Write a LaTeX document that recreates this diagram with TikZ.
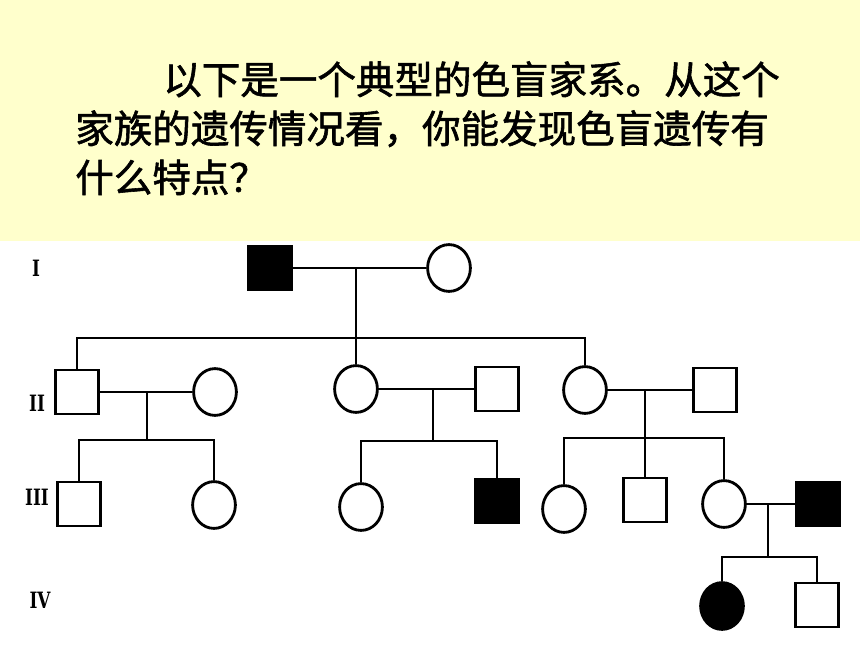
\documentclass[tikz,border=0pt]{standalone}
\usepackage{fontspec}
\newfontfamily\cjk[FakeBold=1.5]{Noto Sans CJK SC}
\newfontfamily\numfont{DejaVu Serif}
\usetikzlibrary{shapes.geometric}
\definecolor{slide}{HTML}{FFFFCC}

\tikzset{
  male/.style={rectangle, draw=black, line width=2pt, fill=white, minimum width=1.07cm, minimum height=1.1cm, inner sep=0},
  female/.style={ellipse, draw=black, line width=2pt, fill=white, minimum width=1.07cm, minimum height=1.17cm, inner sep=0},
  affected/.style={fill=black},
  gen/.style={font=\numfont\bfseries\fontsize{16}{16}\selectfont, xscale=0.75, inner sep=0},
  textline/.style={font=\cjk\fontsize{27.4}{34.9}\selectfont, anchor=base west, inner sep=0},
  link/.style={line width=2pt},
}

\begin{document}
\begin{tikzpicture}[x=0.025cm, y=-0.025cm]
  \useasboundingbox (0,0) rectangle (860,645);
  \fill[slide] (0,0) rectangle (860,241);
  % question
  \node (q1) [textline] at (163,94) {以下是一个典型的色盲家系。从这个};
  \node (q2) [textline] at (75,143) {家族的遗传情况看，你能发现色盲遗传有};
  \node (q3) [textline] at (75,192) {什么特点？};
  % generations
  \node (g1) [gen] at (36,268) {I};
  \node (g2) [gen] at (37,403) {II};
  \node (g3) [gen] at (37,497) {III};
  \node (g4) [gen] at (40,600) {IV};
  % generation I
  \node (i1) [male, affected] at (270,268) {};
  \node (i2) [female] at (449,268) {};
  % generation II
  \node (ii1) [male] at (77,392) {};
  \node (ii2) [female] at (215,392) {};
  \node (ii3) [female] at (356,389) {};
  \node (ii4) [male] at (497,389) {};
  \node (ii5) [female] at (585,390) {};
  \node (ii6) [male] at (715,390) {};
  % generation III
  \node (iii1) [male] at (79,504) {};
  \node (iii2) [female] at (214,505) {};
  \node (iii3) [female] at (361,507) {};
  \node (iii4) [male, affected] at (497,501) {};
  \node (iii5) [female] at (564,509) {};
  \node (iii6) [male] at (645,500) {};
  \node (iii7) [female] at (724,504) {};
  \node (iii8) [male, affected] at (818,504) {};
  % generation IV
  \node (iv1) [female, affected] at (722,606) {};
  \node (iv2) [male] at (817,605) {};
  % matings and sibships
  \coordinate (m1) at (356,268);
  \coordinate (s1) at (356,338);
  \coordinate (m2) at (147,392);
  \coordinate (s2) at (147,440);
  \coordinate (m3) at (433,389);
  \coordinate (s3) at (433,441);
  \coordinate (m4) at (645,390);
  \coordinate (s4) at (645,438);
  \coordinate (m5) at (768,504);
  \coordinate (s5) at (768,557);
  \draw [link] (i1) -- (i2);
  \draw [link] (m1) -- (ii3);
  \draw [link] (ii1) |- (s1) -| (ii5);
  \draw [link] (ii1) -- (ii2);
  \draw [link] (m2) -- (s2);
  \draw [link] (iii1) |- (s2) -| (iii2);
  \draw [link] (ii3) -- (ii4);
  \draw [link] (m3) -- (s3);
  \draw [link] (iii3) |- (s3) -| (iii4);
  \draw [link] (ii5) -- (ii6);
  \draw [link] (m4) -- (iii6);
  \draw [link] (iii5) |- (s4) -| (iii7);
  \draw [link] (iii7) -- (iii8);
  \draw [link] (m5) -- (s5);
  \draw [link] (iv1) |- (s5) -| (iv2);
\end{tikzpicture}
\end{document}
